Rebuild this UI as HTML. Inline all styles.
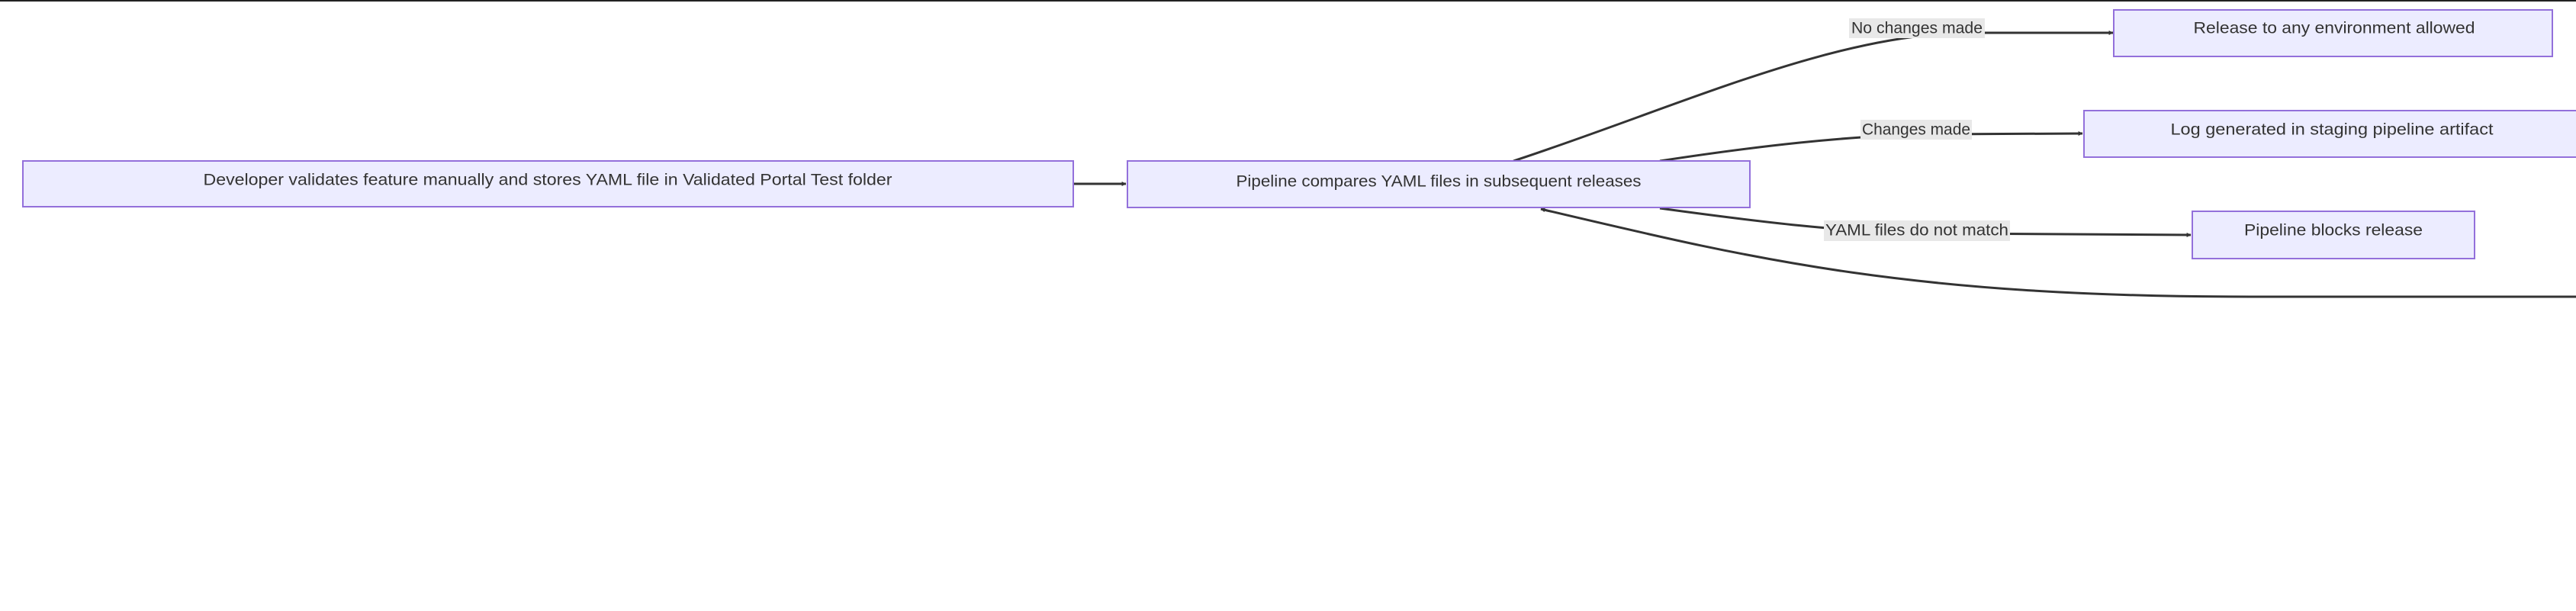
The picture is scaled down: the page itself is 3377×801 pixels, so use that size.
<!DOCTYPE html>
<html><head><meta charset="utf-8"><style>
html,body{margin:0;padding:0;background:#fff;}
svg{display:block;}
text{font-family:"Liberation Sans","DejaVu Sans",sans-serif;font-size:21px;fill:#333;}
</style></head><body>
<svg width="3377" height="801" viewBox="0 0 3377 801" xmlns="http://www.w3.org/2000/svg">
<defs>
<marker id="ah" viewBox="0 0 10 10" refX="9" refY="5" markerWidth="6" markerHeight="6" orient="auto-start-reverse" markerUnits="userSpaceOnUse">
<path d="M0,0 L10,5 L0,10 z" fill="#333"/>
</marker>
</defs>
<rect x="0" y="0" width="3377" height="2" fill="#222"/>
<g fill="none" stroke="#333" stroke-width="3">
<path d="M1407,241 L1476,241" marker-end="url(#ah)"/>
<path d="M1984,211 C2200,140 2400,45 2580,43 L2770,43" marker-end="url(#ah)"/>
<path d="M2176,211 C2300,192 2420,178 2530,176 L2730,175" marker-end="url(#ah)"/>
<path d="M2176,273 C2300,290 2420,305 2530,306 L2872,308" marker-end="url(#ah)"/>
<path d="M3377,389 L2950,389 C2500,389 2300,340 2020,274" marker-end="url(#ah)"/>
</g>
<g fill="#ECECFF" stroke="#9370DB" stroke-width="2">
<rect x="30" y="211" width="1377" height="60"/>
<rect x="1478" y="211" width="816" height="61"/>
<rect x="2771" y="13" width="575" height="61"/>
<rect x="2732" y="145" width="660" height="61"/>
<rect x="2874" y="277" width="370" height="62"/>
</g>
<g fill="#e8e8e8">
<rect x="2424" y="24" width="178" height="26"/>
<rect x="2439" y="157" width="146" height="26"/>
<rect x="2391" y="289" width="244" height="27"/>
</g>
<g text-anchor="middle" dominant-baseline="central">
<text x="718" y="236" textLength="903" lengthAdjust="spacingAndGlyphs">Developer validates feature manually and stores YAML file in Validated Portal Test folder</text>
<text x="1886" y="238" textLength="531" lengthAdjust="spacingAndGlyphs">Pipeline compares YAML files in subsequent releases</text>
<text x="3060" y="37" textLength="369" lengthAdjust="spacingAndGlyphs">Release to any environment allowed</text>
<text x="3057" y="170" textLength="423" lengthAdjust="spacingAndGlyphs">Log generated in staging pipeline artifact</text>
<text x="3059" y="302" textLength="234" lengthAdjust="spacingAndGlyphs">Pipeline blocks release</text>
<text x="2513" y="37" textLength="172" lengthAdjust="spacingAndGlyphs">No changes made</text>
<text x="2512" y="170" textLength="142" lengthAdjust="spacingAndGlyphs">Changes made</text>
<text x="2513" y="302" textLength="240" lengthAdjust="spacingAndGlyphs">YAML files do not match</text>
</g>
</svg>
</body></html>
